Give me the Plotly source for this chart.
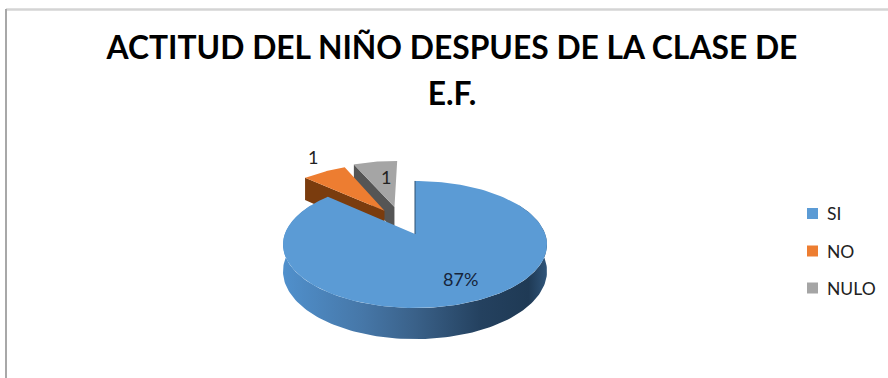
import numpy as np
import plotly.graph_objects as go

# Survey results
categories = ["SI", "NO", "NULO"]
values = [13, 1, 1]
title_lines = ["ACTITUD DEL NIÑO DESPUES DE LA CLASE DE", "E.F."]

top_colors = {"SI": "#5b9bd5", "NO": "#ed7d31", "NULO": "#a5a5a5"}
wall_colors = {"NO": "#7a3c0e", "NULO": "#555555"}

# Perspective model of the tilted pie, in page pixels
APEX_X, APEX_Y = 415.0, 234.0
RADIUS_X, RADIUS_Y = 130.2, 61.8
PERSPECTIVE = 0.165
DEPTH = 26.0
EXPLODE = {"SI": (0.0, 0.0), "NO": (-0.25, 0.40), "NULO": (-0.17, 0.47)}


def project(u, v, drop=0.0):
    w = 1 + PERSPECTIVE * np.asarray(v)
    return APEX_X + RADIUS_X * np.asarray(u) / w, APEX_Y - RADIUS_Y * np.asarray(v) / w + drop * DEPTH / w


def rim(start, stop, offset=(0.0, 0.0), n=160):
    theta = np.radians(np.linspace(start, stop, n))
    return np.sin(theta) + offset[0], np.cos(theta) + offset[1]


def polygon(name, xs, ys, **kw):
    return go.Scatter(x=xs, y=ys, mode="lines", fill="toself", line=dict(width=0),
                      name=name, showlegend=False, hoverinfo="skip", **kw)


# Slice sweeps, clockwise from twelve o'clock
total = sum(values)
sweep = np.cumsum([0] + values) / total * 360
spans = {c: (sweep[i], sweep[i + 1]) for i, c in enumerate(categories)}

fig = go.Figure()

# Far slices first, nearest slice last, so the blue one overlaps the others
for cat in ["NULO", "NO"]:
    start, stop = spans[cat]
    off = EXPLODE[cat]
    edge_u = np.array([off[0], np.sin(np.radians(start)) + off[0]])
    edge_v = np.array([off[1], np.cos(np.radians(start)) + off[1]])
    x_top, y_top = project(edge_u, edge_v)
    x_low, y_low = project(edge_u, edge_v, drop=1.0)
    fig.add_trace(polygon(cat + " wall",
                          np.r_[x_top, x_low[::-1]], np.r_[y_top, y_low[::-1]],
                          fillcolor=wall_colors[cat]))
    u, v = rim(start, stop, off)
    x_arc, y_arc = project(u, v)
    ax, ay = project(off[0], off[1])
    fig.add_trace(polygon(cat, np.r_[ax, x_arc, ax], np.r_[ay, y_arc, ay],
                          fillcolor=top_colors[cat]))

# Rounded outer wall of the large slice, shaded from left to right
u, v = rim(60, 300)
x_up, y_up = project(u, v)
x_dn, y_dn = project(u, v, drop=1.0)
fig.add_trace(polygon("SI wall", np.r_[x_up, x_dn[::-1]], np.r_[y_up, y_dn[::-1]],
                      fillgradient=dict(type="horizontal",
                                        colorscale=[[0, "#5090cc"], [0.3, "#4677a8"],
                                                    [0.5, "#3a6189"], [0.75, "#24415f"],
                                                    [0.93, "#1f3a55"], [1, "#30557a"]])))

start, stop = spans["SI"]
u, v = rim(start, stop)
x_arc, y_arc = project(u, v)
fig.add_trace(polygon("SI", np.r_[APEX_X, x_arc, APEX_X], np.r_[APEX_Y, y_arc, APEX_Y],
                      fillcolor=top_colors["SI"]))
# Thin shaded edge of the cut at twelve o'clock
x_cut, y_cut = project(np.array([0.0, 0.0]), np.array([0.0, 1.0]))
fig.add_trace(go.Scatter(x=x_cut, y=y_cut, mode="lines", line=dict(color="#2f5070", width=1),
                         showlegend=False, hoverinfo="skip"))

# Key on the right: one square and one name per category
KEY_SQUARE_X, KEY_TEXT_X = 812.5, 826
KEY_ROWS = [213.5, 251, 288]
for cat, row in zip(categories, KEY_ROWS):
    fig.add_trace(go.Scatter(x=[KEY_SQUARE_X], y=[row], mode="markers", name=cat,
                             showlegend=False, hoverinfo="name",
                             marker=dict(symbol="square", size=11, color=top_colors[cat])))
    fig.add_annotation(x=KEY_TEXT_X, y=row, text=cat, showarrow=False, xanchor="left", xshift=-1,
                       font=dict(family="Lato", size=17.5, color="#222222"))

# Data labels: share for the large slice, raw count for the small ones
label_text = [f"{values[0] / total:.0%}", str(values[1]), str(values[2])]
label_pos = [(460, 279), (313, 157), (386, 177)]
label_col = ["#16243a", "#222222", "#222222"]
for text, (lx, ly), col in zip(label_text, label_pos, label_col):
    fig.add_annotation(x=lx, y=ly, text=text, showarrow=False,
                       font=dict(family="Lato", size=18, color=col))

# The outer font size sets the line pitch, the inner spans the glyph size
title_html = "<br>".join(f'<span style="font-size:31.8px">{line}</span>' for line in title_lines)

fig.update_layout(
    width=888, height=378, autosize=False,
    margin=dict(l=0, r=0, t=0, b=0, autoexpand=False),
    paper_bgcolor="white", plot_bgcolor="white",
    showlegend=False,
    xaxis=dict(range=[0, 888], visible=False, fixedrange=True),
    yaxis=dict(range=[378, 0], visible=False, fixedrange=True),
    title=dict(text=title_html, x=452 / 888, xanchor="center", y=0.844, yanchor="top",
               font=dict(family="Lato", size=35.4, color="#000000", weight="bold")),
    shapes=[
        dict(type="line", x0=6, x1=888, y0=9.5, y1=9.5, line=dict(color="#d4d4d4", width=2.5)),
        dict(type="line", x0=6, x1=6, y0=9, y1=378, line=dict(color="#a8a8a8", width=2)),
    ],
)

fig.write_html("out.html")
